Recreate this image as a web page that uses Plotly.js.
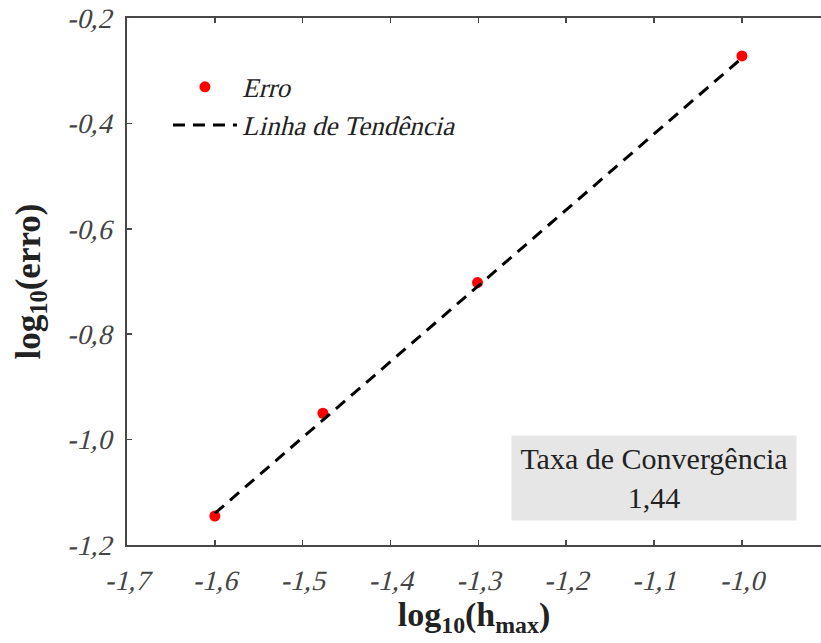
<!DOCTYPE html>
<html>
<head>
<meta charset="utf-8">
<script src="https://cdn.plot.ly/plotly-3.0.1.min.js"></script>
<style>
  html, body { margin: 0; padding: 0; background: #fff; }
  #chart { width: 821px; height: 643px; }
</style>
</head>
<body>
<div id="chart"></div>
<script>
// Measured error against maximum element size (log10 of each)
const logH = [-1.6, -1.477, -1.301, -1.0];
const logErr = [-1.145, -0.95, -0.702, -0.272];

// Trend line fitted through the points: slope is the convergence rate
const convergenceRate = 1.44;
const trendX = [-1.6, -1.0];
const trendY = [-1.14, -1.14 + convergenceRate * 0.6];

// Tick labels with decimal comma
const xTickVals = [-1.7, -1.6, -1.5, -1.4, -1.3, -1.2, -1.1, -1.0];
const xTickText = ['-1,7', '-1,6', '-1,5', '-1,4', '-1,3', '-1,2', '-1,1', '-1,0'];
const yTickVals = [-1.2, -1.0, -0.8, -0.6, -0.4, -0.2];
const yTickText = ['-1,2', '-1,0', '-0,8', '-0,6', '-0,4', '-0,2'];

const serif = '"Liberation Serif", "Times New Roman", Times, serif';
const axisColor = '#484848';

const traces = [
  {
    x: logH, y: logErr,
    mode: 'markers', type: 'scatter',
    name: 'Erro',
    marker: { color: '#ff0000', size: 11 }
  },
  {
    x: trendX, y: trendY,
    mode: 'lines', type: 'scatter',
    name: 'Linha de Tendência',
    line: { color: '#000000', width: 3, dash: '12px,8px' }
  }
];

const layout = {
  width: 821, height: 643,
  margin: { l: 127, r: 0, t: 18, b: 98 },
  paper_bgcolor: '#ffffff',
  plot_bgcolor: '#ffffff',
  font: { family: serif, color: '#333333' },
  showlegend: true,
  legend: {
    x: 0.059, y: 0.915, xanchor: 'left', yanchor: 'top',
    bgcolor: 'rgba(0,0,0,0)',
    itemwidth: 64,
    font: { family: serif, size: 27, color: '#222222' },
    tracegroupgap: 0
  },
  xaxis: {
    range: [-1.7, -0.91],
    tickvals: xTickVals, ticktext: xTickText,
    ticks: 'inside', ticklen: 5, tickwidth: 1.5, tickcolor: axisColor,
    showline: true, linecolor: axisColor, linewidth: 2,
    mirror: 'ticks', showgrid: false, zeroline: false,
    ticklabelstandoff: 9,
    tickfont: { family: serif, size: 28, color: '#444444' },
    title: {
      text: '<b>log<sub>10</sub>(h<sub>max</sub>)</b>',
      font: { family: serif, size: 34, color: '#222222' },
      standoff: 2
    }
  },
  yaxis: {
    range: [-1.2, -0.2],
    tickvals: yTickVals, ticktext: yTickText,
    ticks: 'inside', ticklen: 5, tickwidth: 1.5, tickcolor: axisColor,
    showline: true, linecolor: axisColor, linewidth: 2,
    mirror: false, showgrid: false, zeroline: false,
    ticklabelstandoff: 8,
    tickfont: { family: serif, size: 28, color: '#444444' },
    title: {
      text: '<b>log<sub>10</sub>(erro)</b>',
      font: { family: serif, size: 35, color: '#222222' },
      standoff: 16
    }
  },
  annotations: [
    {
      xref: 'paper', yref: 'paper',
      x: (654 - 127) / 694, y: (545 - 478) / 527,
      xanchor: 'center', yanchor: 'middle',
      text: 'Taxa de Convergência<br>' + String(convergenceRate).replace('.', ','),
      showarrow: false,
      align: 'center',
      bgcolor: '#e6e6e6',
      width: 282, height: 82,
      font: { family: serif, size: 30, color: '#222222' }
    }
  ]
};

// Tick labels and legend entries are set in a slanted serif; the slant is
// applied as a skew about each label's own anchor point.
function slantLabels() {
  const nodes = document.querySelectorAll('#chart g.xtick > text, #chart g.ytick > text, #chart text.legendtext');
  nodes.forEach(t => {
    const x = parseFloat(t.getAttribute('x')) || 0;
    const y = parseFloat(t.getAttribute('y')) || 0;
    let base = t.getAttribute('data-base-transform');
    if (base === null) {
      base = t.getAttribute('transform') || '';
      t.setAttribute('data-base-transform', base);
    }
    t.setAttribute('transform', `${base} translate(${x},${y}) skewX(-14) translate(${-x},${-y})`);
  });
}

Plotly.newPlot('chart', traces, layout, { displayModeBar: false, staticPlot: true })
  .then(slantLabels);
</script>
</body>
</html>
